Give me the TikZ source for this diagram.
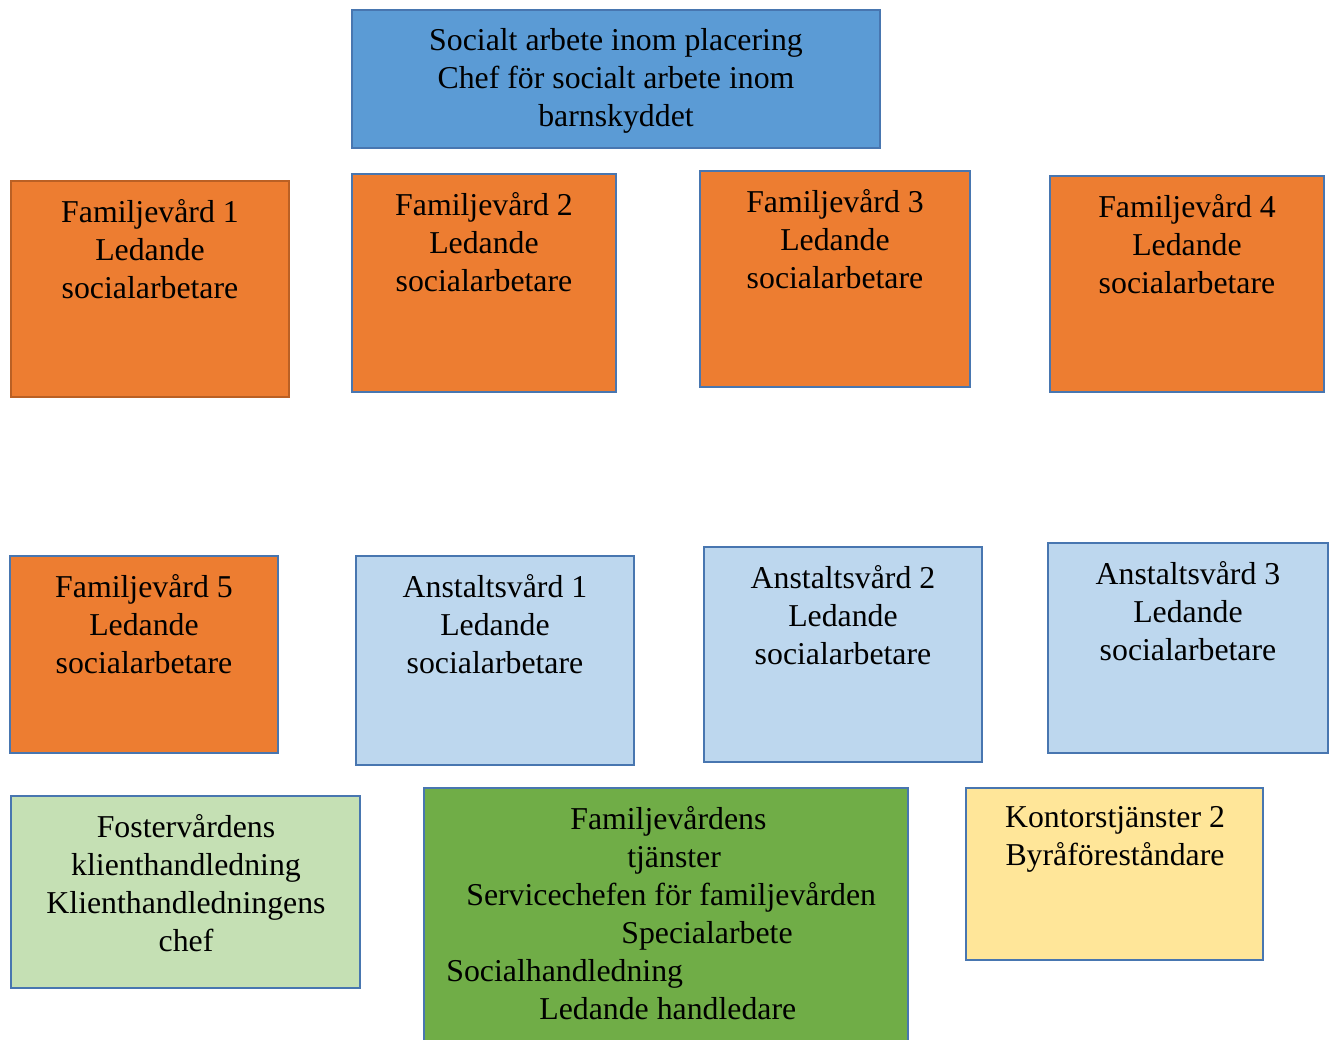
\documentclass[tikz,border=0pt]{standalone}
\usepackage{fontspec}
\setmainfont{Liberation Serif}
\usepackage{tikz}
\usetikzlibrary{calc}
\definecolor{myblue}{RGB}{91, 155, 213}
\definecolor{myedge}{RGB}{72, 118, 176}
\definecolor{myorange}{RGB}{237, 125, 49}
\definecolor{mybrown}{RGB}{186, 96, 36}
\definecolor{mylightblue}{RGB}{189, 215, 238}
\definecolor{mylightgreen}{RGB}{197, 224, 180}
\definecolor{mygreen}{RGB}{112, 173, 71}
\definecolor{myyellow}{RGB}{255, 230, 153}
\begin{document}
\begin{tikzpicture}[
    x = 0.02cm, y = -0.02cm,
    b0/.style = {draw = myedge, line width = 1.4pt},
    t0/.style = {anchor = north, align = center, inner sep = 0pt, font = \fontsize{18.1}{21.6}\selectfont},
]

\clip (0, 0) rectangle (1333, 1039);

% top box
\draw[b0, fill = myblue] (352, 10) rectangle (880, 148);
\node[t0] (head) at (616, 28) {Socialt arbete inom placering\\ Chef för socialt arbete inom\\ barnskyddet};

% familjevard
\draw[b0, draw = mybrown, fill = myorange] (11, 181) rectangle (289, 397);
\node[t0] (fam1) at (150, 199) {Familjevård 1\\ Ledande\\ socialarbetare};

\draw[b0, fill = myorange] (352, 174) rectangle (616, 392);
\node[t0] (fam2) at (484, 192) {Familjevård 2\\ Ledande\\ socialarbetare};

\draw[b0, fill = myorange] (700, 171) rectangle (970, 387);
\node[t0] (fam3) at (835, 189) {Familjevård 3\\ Ledande\\ socialarbetare};

\draw[b0, fill = myorange] (1050, 176) rectangle (1324, 392);
\node[t0] (fam4) at (1187, 194) {Familjevård 4\\ Ledande\\ socialarbetare};

\draw[b0, fill = myorange] (10, 556) rectangle (278, 753);
\node[t0] (fam5) at (144, 574) {Familjevård 5\\ Ledande\\ socialarbetare};

% anstaltsvard
\draw[b0, fill = mylightblue] (356, 556) rectangle (634, 765);
\node[t0] (ans1) at (495, 574) {Anstaltsvård 1\\ Ledande\\ socialarbetare};

\draw[b0, fill = mylightblue] (704, 547) rectangle (982, 762);
\node[t0] (ans2) at (843, 565) {Anstaltsvård 2\\ Ledande\\ socialarbetare};

\draw[b0, fill = mylightblue] (1048, 543) rectangle (1328, 753);
\node[t0] (ans3) at (1188, 561) {Anstaltsvård 3\\ Ledande\\ socialarbetare};

% bottom row
\draw[b0, fill = mylightgreen] (11, 796) rectangle (360, 988);
\node[t0] (foster) at (186, 814) {Fostervårdens\\ klienthandledning\\ Klienthandledningens\\ chef};

\draw[b0, fill = mygreen] (424, 788) rectangle (908, 1045);
\node[t0, anchor = north west, align = left] (famtj) at (446, 806)
  {\hspace*{2.48cm}Familjevårdens\\ \hspace*{3.62cm}tjänster\\ \hspace*{0.4cm}Servicechefen för familjevården\\ \hspace*{3.5cm}Specialarbete\\ Socialhandledning\\ \hspace*{1.86cm}Ledande handledare};

\draw[b0, fill = myyellow] (966, 788) rectangle (1263, 960);
\node[t0] (kontor) at (1115, 806) {Kontorstjänster 2\\ Byråföreståndare};

\end{tikzpicture}
\end{document}
